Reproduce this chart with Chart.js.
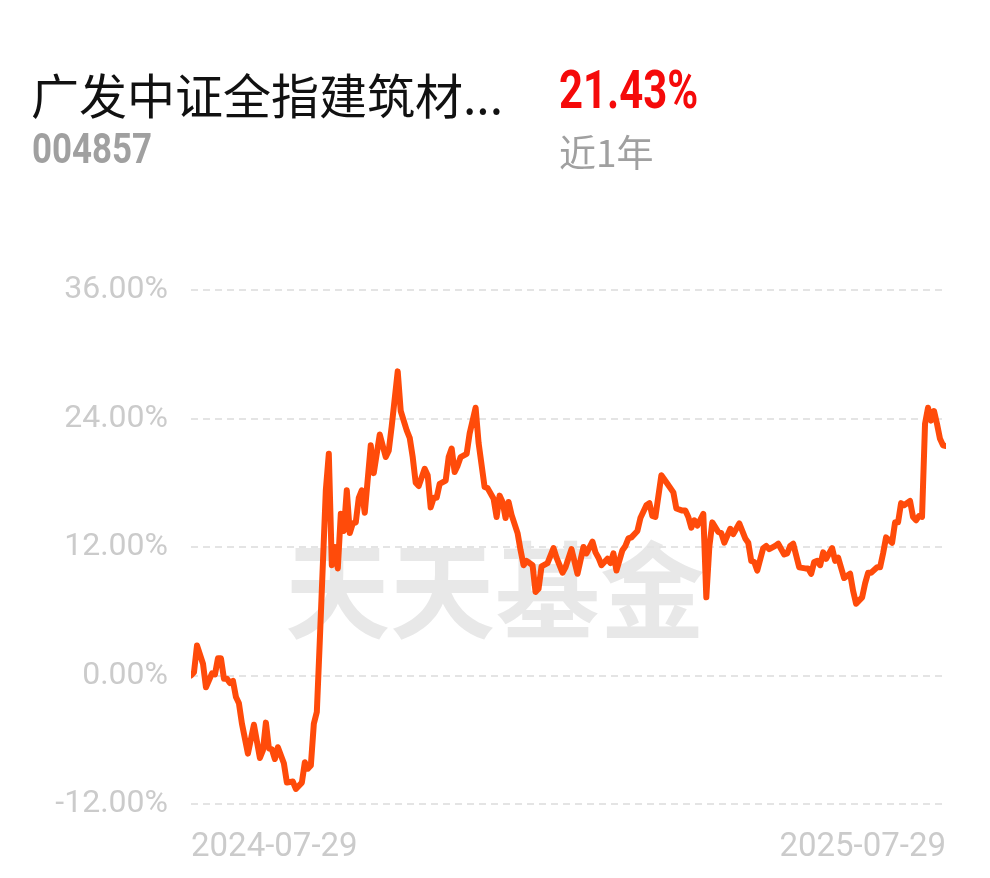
<!DOCTYPE html>
<html lang="zh-CN">
<head>
  <meta charset="UTF-8">
  <title>广发中证全指建筑材料 近1年</title>
  <script src="https://cdn.jsdelivr.net/npm/chart.js"></script>
  <style>
    html, body { margin: 0; padding: 0; background: #fff; }
    body { width: 990px; height: 878px; position: relative; overflow: hidden; }
    .txt { position: absolute; white-space: nowrap; line-height: 1; z-index: 2; }
    #fundName { left: 31px; top: 58px; font: 48px "Noto Sans CJK SC", sans-serif; color: #111; }
    #fundCode { left: 32px; top: 124px; font: bold 42px Roboto, sans-serif; color: #a0a0a0; transform: scaleX(0.83); transform-origin: left; }
    #fundReturn { left: 559px; top: 59px; font: bold 53px Roboto, sans-serif; color: #f50a0a; transform: scaleX(0.79); transform-origin: left; }
    #fundPeriod { left: 559px; top: 124px; font: 37px "Noto Sans CJK SC", sans-serif; color: #a0a0a0; }
    #chart { position: absolute; left: 0; top: 0; }
  </style>
</head>
<body>
  <div class="txt" id="fundName">广发中证全指建筑材...</div>
  <div class="txt" id="fundCode">004857</div>
  <div class="txt" id="fundReturn">21.43%</div>
  <div class="txt" id="fundPeriod">近1年</div>
  <canvas id="chart" width="990" height="878"></canvas>

  <script>
    // trading day index (0 = 2024-07-29, 252 = 2025-07-29) and cumulative return in %
    const days = [
      0, 1, 2, 4, 5, 7, 8, 9, 10, 11, 12, 13, 14, 15, 16, 17, 19, 21, 23, 24,
      25, 26, 27, 28, 29, 31, 32, 34, 35, 37, 38, 39, 40, 41, 42, 43, 45, 46, 47, 48,
      49, 50, 51, 52, 53, 54, 55, 56, 57, 58, 60, 61, 63, 65, 66, 67, 69, 70, 72, 73,
      74, 75, 76, 78, 79, 80, 81, 82, 83, 85, 86, 87, 88, 89, 90, 92, 93, 95, 96, 98,
      99, 101, 102, 103, 104, 105, 106, 107, 109, 110, 111, 112, 114, 115, 116, 117, 119, 121, 122, 124,
      125, 127, 129, 131, 132, 134, 135, 136, 137, 139, 140, 141, 142, 144, 145, 146, 147, 149, 150, 152,
      153, 154, 155, 157, 159, 161, 162, 164, 165, 166, 167, 168, 169, 171, 172, 173, 174, 176, 177, 178,
      180, 181, 183, 185, 186, 187, 188, 189, 191, 192, 193, 195, 196, 198, 199, 200, 201, 203, 205, 206,
      207, 208, 209, 210, 211, 212, 214, 215, 216, 218, 220, 221, 222, 224, 225, 226, 227, 229, 230, 231,
      232, 234, 235, 236, 237, 238, 240, 241, 242, 243, 244, 245, 246, 247, 248, 249, 250, 251, 252
    ];
    const returns = [
      0.0, 0.3, 2.8, 1.1, -1.1, 0.2, 0.1, 1.6, 1.6, -0.3, -0.3, -0.7, -0.5, -2.0, -2.6, -4.5, -7.3, -4.6, -7.7, -7.0,
      -4.4, -6.8, -6.9, -7.8, -6.7, -8.2, -10.0, -9.9, -10.6, -10.0, -8.1, -8.7, -8.4, -4.5, -3.4, 3.3, 17.3, 20.7, 10.3, 12.0,
      10.0, 15.1, 13.5, 17.3, 13.3, 14.2, 14.3, 16.6, 17.3, 15.2, 21.5, 18.9, 22.5, 20.4, 21.0, 23.3, 28.4, 24.7, 22.9, 22.2,
      20.4, 18.0, 17.7, 19.3, 18.7, 15.7, 16.6, 16.6, 17.9, 18.2, 20.4, 21.2, 19.0, 19.6, 20.4, 20.7, 22.6, 25.0, 21.7, 17.6,
      17.5, 16.5, 14.8, 16.8, 16.2, 14.7, 16.2, 15.0, 13.3, 11.7, 10.3, 10.7, 10.3, 7.8, 8.1, 10.2, 10.5, 11.9, 11.0, 9.6,
      10.1, 11.8, 9.5, 12.0, 11.4, 12.5, 11.5, 11.0, 10.3, 10.9, 10.5, 11.4, 9.8, 11.7, 12.1, 12.8, 12.9, 13.5, 14.7, 15.9,
      16.1, 14.9, 14.8, 18.7, 17.9, 17.1, 15.6, 15.4, 15.4, 14.8, 13.8, 14.5, 14.0, 15.1, 7.3, 12.0, 14.3, 13.4, 13.3, 12.4,
      13.7, 13.2, 14.2, 12.8, 12.4, 10.7, 10.6, 9.8, 11.9, 12.1, 11.8, 12.1, 12.3, 11.3, 11.4, 12.1, 12.3, 10.1, 10.0, 10.0,
      9.5, 10.6, 10.7, 10.3, 11.5, 10.9, 11.9, 10.7, 11.0, 9.1, 9.5, 7.9, 6.7, 7.3, 8.6, 9.6, 9.6, 10.1, 10.1, 11.4,
      12.9, 12.4, 14.3, 14.3, 16.1, 15.9, 16.3, 14.8, 14.5, 14.9, 14.8, 23.5, 25.0, 23.8, 24.7, 23.5, 22.1, 21.5, 21.43
    ];
    const dateLabels = ['2024-07-29', '2025-07-29'];
    const dateTicks = [0, 252];
    const yTicks = [-12, 0, 12, 24, 36];
    const watermark = '天天基金';

    const watermarkPlugin = {
      id: 'watermark',
      beforeDraw(chart) {
        const ctx = chart.ctx;
        ctx.save();
        ctx.font = 'bold 105px "Noto Sans CJK SC"';
        ctx.fillStyle = '#e8e8e8';
        ctx.textAlign = 'center';
        ctx.textBaseline = 'middle';
        ctx.fillText(watermark, chart.width / 2, 590);
        ctx.restore();
      }
    };

    new Chart(document.getElementById('chart'), {
      type: 'line',
      data: {
        datasets: [{
          data: days.map((d, i) => ({ x: d, y: returns[i] })),
          borderColor: '#ff4b0a',
          borderWidth: 6,
          borderJoinStyle: 'round',
          borderCapStyle: 'round',
          pointRadius: 0,
          tension: 0,
          fill: false
        }]
      },
      options: {
        responsive: false,
        animation: false,
        layout: { padding: { top: 290, right: 44, left: 0, bottom: 0 } },
        plugins: {
          legend: { display: false },
          tooltip: { enabled: false }
        },
        scales: {
          x: {
            type: 'linear',
            min: dateTicks[0],
            max: dateTicks[1],
            afterBuildTicks: axis => { axis.ticks = dateTicks.map(v => ({ value: v })); },
            afterFit: scale => { scale.height = 74; },
            grid: { display: false },
            border: { display: false },
            ticks: {
              align: 'inner',
              padding: 16,
              maxRotation: 0,
              color: '#cbcbcb',
              font: { family: 'Roboto', size: 33 },
              callback: v => dateLabels[dateTicks.indexOf(v)]
            }
          },
          y: {
            min: yTicks[0],
            max: yTicks[yTicks.length - 1],
            afterBuildTicks: axis => { axis.ticks = yTicks.map(v => ({ value: v })); },
            afterFit: scale => { scale.width = 191; },
            border: { display: false, dash: [7, 5] },
            grid: {
              color: '#e4e4e4',
              lineWidth: 2,
              drawTicks: false
            },
            ticks: {
              padding: 23,
              color: '#cbcbcb',
              font: { family: 'Roboto', size: 32 },
              callback: v => v.toFixed(2) + '%'
            }
          }
        }
      },
      plugins: [watermarkPlugin]
    });
  </script>
</body>
</html>
